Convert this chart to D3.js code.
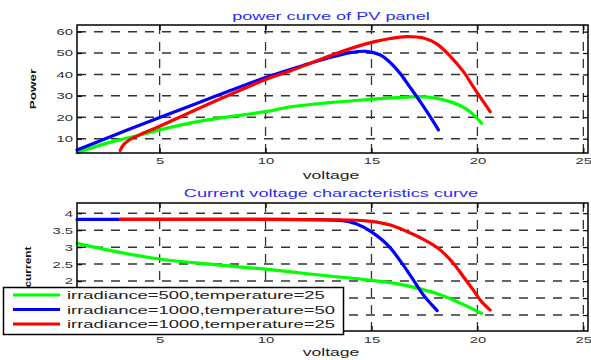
<!DOCTYPE html>
<html>
<head>
<meta charset="utf-8">
<script src="https://cdn.jsdelivr.net/npm/d3@7"></script>
<style>
  body { margin: 0; background: #fff; }
  svg { display: block; }
</style>
</head>
<body>
<svg id="fig" width="591" height="360"></svg>
<script>
// ---- data -------------------------------------------------------------
const voltageTicks = [5, 10, 15, 20, 25];
const powerTicks = [10, 20, 30, 40, 50, 60];
const currentTicks = [1, 1.5, 2, 2.5, 3, 3.5, 4];
// the two lowest current labels sit under the legend box
const currentTickLabels = ["", "", "2", "2.5", "3", "3.5", "4"];

const seriesNames = [
  "irradiance=500,temperature=25",
  "irradiance=1000,temperature=50",
  "irradiance=1000,temperature=25"
];
const seriesColors = ["#00ff00", "#0000ff", "#ff0000"];

// power curves: [voltage, power]
const powerG500T25 = [[1.1,3.4],[2,6.4],[3,9.2],[4.1,11.7],[5,14.1],[7,18.3],[10,22.6],[11.2,24.9],[13,26.8],[15,28.4],[16.2,29.2],[17.3,29.6],[18,29.0],[18.7,27.3],[19.2,25.4],[19.65,22.6],[20.2,17.2]];
const powerG1000T50 = [[1.1,4.7],[3,12.2],[5,19.9],[7.5,29.3],[10,38.6],[11.9,44.6],[13,47.8],[14,50.2],[14.75,50.8],[15.4,49.2],[15.88,45.6],[16.35,40.5],[16.8,34.3],[17.3,27.3],[17.77,20.3],[18.16,14.1]];
const powerG1000T25 = [[3.14,4.5],[3.3,7.2],[3.6,9.6],[4.1,12.0],[5,15.8],[7.5,27.0],[10,37.6],[11.16,41.6],[12.73,47.6],[14.3,53.0],[15.1,55.2],[15.88,56.8],[16.67,57.7],[17.45,57.0],[18.08,54.3],[18.71,48.6],[19.34,41.3],[19.8,34.3],[20.28,27.3],[20.6,22.6]];

// current curves: [voltage, current]
const currentG500T25 = [[1.1,3.11],[3,2.86],[5,2.65],[7.5,2.49],[10,2.35],[11.2,2.27],[13,2.15],[15,2.02],[16.3,1.91],[17.3,1.77],[18,1.65],[18.7,1.49],[19.2,1.35],[19.65,1.22],[20.2,1.05]];
const currentG1000T50 = [[1.1,3.82],[8,3.82],[12,3.81],[13.52,3.79],[14.3,3.68],[15,3.45],[15.9,2.97],[16.5,2.47],[16.98,2.03],[17.45,1.59],[17.85,1.30],[18.1,1.13]];
const currentG1000T25 = [[3.14,3.82],[10,3.82],[14,3.80],[15,3.76],[15.9,3.65],[16.67,3.46],[17.45,3.23],[18.24,2.92],[18.87,2.52],[19.34,2.13],[19.8,1.74],[20.2,1.39],[20.6,1.15]];

const powerSeries = [powerG500T25, powerG1000T50, powerG1000T25];
const currentSeries = [currentG500T25, currentG1000T50, currentG1000T25];

// ---- layout -----------------------------------------------------------
const FONT = "'Liberation Sans', Arial, Helvetica, sans-serif";
const SX = 1.65;           // horizontal text stretch
const left = 77, right = 588;
const panels = [
  { top: 25, bottom: 153, domain: [3.3, 63.1], ticks: powerTicks, labels: powerTicks.map(String),
    series: powerSeries, curve: d3.curveCatmullRom.alpha(0.5),
    title: "power curve of PV panel", titleY: 20,
    ylabel: "Power", ylabelX: 35.5, ylabelScale: 1.5, xlabelY: 179, tickPad: 5 },
  { top: 203, bottom: 331, domain: [0.53, 4.30], ticks: currentTicks, labels: currentTickLabels,
    series: currentSeries, curve: d3.curveMonotoneX,
    title: "Current voltage characteristics curve", titleY: 197,
    ylabel: "current", ylabelX: 30.5, ylabelScale: 1.33, xlabelY: 356, tickPad: 6 }
];

const svg = d3.select("#fig");
svg.append("rect").attr("width", 591).attr("height", 360).attr("fill", "#fff");

function stretchedText(g, x, y, txt, opts) {
  const o = Object.assign({ size: 11, sx: SX, anchor: "middle", fill: "#111", rotate: 0, weight: "normal" }, opts);
  return g.append("text")
    .attr("transform", `translate(${x},${y})` + (o.rotate ? ` rotate(${o.rotate})` : "") + ` scale(${o.sx},1)`)
    .attr("text-anchor", o.anchor)
    .attr("font-family", FONT)
    .attr("font-size", o.size)
    .attr("font-weight", o.weight)
    .attr("fill", o.fill)
    .text(txt);
}

const x = d3.scaleLinear().domain([1.1, 25.22]).range([left, right]);

panels.forEach(p => {
  const y = d3.scaleLinear().domain(p.domain).range([p.bottom, p.top]);
  const g = svg.append("g");

  // dashed grid
  g.append("g").selectAll("line").data(p.ticks).join("line")
    .attr("x1", left).attr("x2", right)
    .attr("y1", d => y(d)).attr("y2", d => y(d))
    .attr("stroke", "#333").attr("stroke-width", 1.5).attr("stroke-dasharray", "9,8");
  g.append("g").selectAll("line").data(voltageTicks).join("line")
    .attr("x1", d => x(d)).attr("x2", d => x(d))
    .attr("y1", p.top).attr("y2", p.bottom)
    .attr("stroke", "#333").attr("stroke-width", 1.3).attr("stroke-dasharray", "9,8");

  // curves
  const line = d3.line().x(d => x(d[0])).y(d => y(d[1])).curve(p.curve);
  p.series.forEach((s, i) => {
    g.append("path").datum(s)
      .attr("d", line)
      .attr("fill", "none")
      .attr("stroke", seriesColors[i])
      .attr("stroke-width", 3.2)
      .attr("stroke-linejoin", "round")
      .attr("stroke-linecap", "round");
  });

  // axes with inward ticks
  const axL = g.append("g").attr("transform", `translate(${left},0)`)
    .call(d3.axisLeft(y).tickValues(p.ticks).tickFormat((d, i) => p.labels[i]).tickSizeInner(-5).tickSizeOuter(0).tickPadding(0));
  const axB = g.append("g").attr("transform", `translate(0,${p.bottom})`)
    .call(d3.axisBottom(x).tickValues(voltageTicks).tickFormat(d3.format("d")).tickSizeInner(-5).tickSizeOuter(0).tickPadding(p.tickPad));
  const axR = g.append("g").attr("transform", `translate(${right},0)`)
    .call(d3.axisRight(y).tickValues(p.ticks).tickFormat("").tickSizeInner(-5).tickSizeOuter(0));
  const axT = g.append("g").attr("transform", `translate(0,${p.top})`)
    .call(d3.axisTop(x).tickValues(voltageTicks).tickFormat("").tickSizeInner(-5).tickSizeOuter(0));
  [axL, axB, axR, axT].forEach(a => {
    a.select(".domain").remove();
    a.selectAll(".tick line").attr("stroke", "#000").attr("stroke-width", 1.2);
    a.selectAll("text").attr("font-family", FONT).attr("font-size", 9).attr("fill", "#333");
  });
  axL.selectAll(".tick text").attr("x", -4 / SX).attr("transform", `scale(${SX},1)`);
  axB.selectAll(".tick text").attr("transform", `scale(${SX},1)`);

  // frame
  g.append("rect")
    .attr("x", left).attr("y", p.top)
    .attr("width", right - left).attr("height", p.bottom - p.top)
    .attr("fill", "none").attr("stroke", "#000").attr("stroke-width", 1.5);

  // texts
  stretchedText(g, 331, p.titleY, p.title, { size: 11, fill: "#2a2aff" });
  stretchedText(g, 331, p.xlabelY, "voltage", { size: 11, sx: 1.6, fill: "#222" });
  stretchedText(g, p.ylabelX, (p.top + p.bottom) / 2, p.ylabel,
    { size: 9, sx: p.ylabelScale, rotate: -90, fill: "#111", weight: "bold" });
});

// ---- legend -----------------------------------------------------------
const lg = svg.append("g");
lg.append("rect")
  .attr("x", 3.5).attr("y", 287.5).attr("width", 340).attr("height", 47)
  .attr("fill", "#fff").attr("stroke", "#000").attr("stroke-width", 1.5);
const legendY = d3.scalePoint().domain(seriesNames).range([295, 324]);
seriesNames.forEach((name, i) => {
  const ly = legendY(name);
  lg.append("line")
    .attr("x1", 13).attr("x2", 60).attr("y1", ly).attr("y2", ly)
    .attr("stroke", seriesColors[i]).attr("stroke-width", 3.2);
  stretchedText(lg, 67, ly + 4, name, { size: 11, sx: 1.675, anchor: "start", fill: "#222" });
});
</script>
</body>
</html>
